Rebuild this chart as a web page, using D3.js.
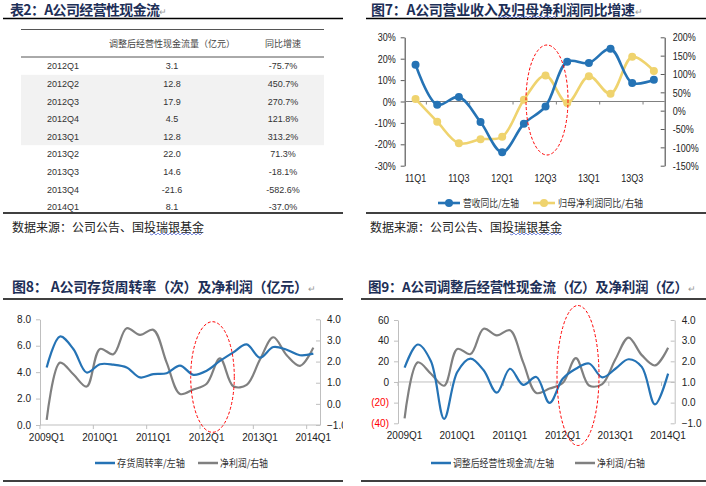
<!DOCTYPE html>
<html><head><meta charset="utf-8">
<script src="https://cdn.jsdelivr.net/npm/d3@7"></script>
<style>
body{margin:0;background:#fff}
svg{display:block}
text{font-family:"Liberation Sans",Arial,sans-serif}
.cjk{font-family:"Noto Sans CJK SC","Noto Sans",sans-serif}
</style>
</head><body><svg id="c" width="706" height="486"></svg>
<script>
// ---------- DATA ----------
const tableQuarters = ["2012Q1","2012Q2","2012Q3","2012Q4","2013Q1","2013Q2","2013Q3","2013Q4","2014Q1"];
const tableCash = ["3.1","12.8","17.9","4.5","12.8","22.0","14.6","-21.6","8.1"];
const tableYoy = ["-75.7%","450.7%","270.7%","121.8%","313.2%","71.3%","-18.1%","-582.6%","-37.0%"];
const tableHeaders = ["调整后经营性现金流量（亿元）","同比增速"];

const fig7Cats = ["11Q1","11Q2","11Q3","11Q4","12Q1","12Q2","12Q3","12Q4","13Q1","13Q2","13Q3","13Q4"];
const revenueYoy = [17.2,-1.5,2.1,-9.6,-23.7,-10.4,-2.3,18.6,18.0,24.6,8.7,10.2];
const profitYoy = [32,-30,-89,-78,-71,30,96,21,94,46,147,108];
const fig7LeftTicks = [-30,-20,-10,0,10,20,30];
const fig7RightTicks = [-150,-100,-50,0,50,100,150,200];

const quarters = ["2009Q1","2009Q2","2009Q3","2009Q4","2010Q1","2010Q2","2010Q3","2010Q4",
  "2011Q1","2011Q2","2011Q3","2011Q4","2012Q1","2012Q2","2012Q3","2012Q4",
  "2013Q1","2013Q2","2013Q3","2013Q4","2014Q1"];
const quarterLabels = ["2009Q1","2010Q1","2011Q1","2012Q1","2013Q1","2014Q1"];
const inventoryTurnover = [4.35,6.7,5.75,3.97,4.6,4.57,4.36,3.6,3.85,3.92,4.5,3.8,4.1,4.85,5.5,6.1,5.1,5.9,5.7,5.28,5.4];
const netProfit = [-0.76,1.95,1.4,0.82,2.6,2.35,3.58,3.26,3.5,1.95,0.47,0.68,0.95,2.15,0.83,0.9,2.1,3.15,2.3,1.8,2.66];
const adjCashFlow = [13.9,36.3,20.0,-35.7,9.7,22.7,11.3,-10.4,12.8,-2.8,4.8,-20.3,3.1,12.8,17.9,4.5,12.8,22.0,14.6,-21.6,8.1];
const fig8LeftTicks = [0,2,4,6,8];
const fig9LeftTicks = [-40,-20,0,20,40,60];
const profitTicks = [-1,0,1,2,3,4];

const titles = ["表2：A公司经营性现金流","图7：A公司营业收入及归母净利润同比增速",
  "图8：  A公司存货周转率（次）及净利润（亿元）","图9：A公司调整后经营性现金流（亿）及净利润（亿）"];
const sourceText = "数据来源：公司公告、国投瑞银基金";
const legend7 = ["营收同比/左轴","归母净利润同比/右轴"];
const legend8 = ["存货周转率/左轴","净利润/右轴"];
const legend9 = ["调整后经营性现金流/左轴","净利润/右轴"];

// ---------- STYLE ----------
const BLUE = "#2573b5", YELLOW = "#efd36e", GRAY = "#808080", NAVY = "#1d2f57";
const svg = d3.select("#c");
svg.append("rect").attr("width",706).attr("height",486).attr("fill","#fff");

function title(x, y, txt, size, len){
  const t = svg.append("text").attr("class","cjk").attr("x",x).attr("y",y)
    .attr("font-size",size).attr("font-weight","bold").attr("fill",NAVY);
  t.append("tspan").text(txt).attr("textLength",len);
  t.append("tspan").text("↵").attr("font-size",9).attr("font-weight","normal").attr("fill","#999");
}
function rule(x1,x2,y,w,c){
  svg.append("line").attr("x1",x1).attr("x2",x2).attr("y1",y).attr("y2",y)
    .attr("stroke",c||"#000").attr("stroke-width",w||1);
}
function wavy(x1,x2,y){
  let d = `M${x1},${y}`;
  for(let x=x1, k=0; x<x2; x+=2, k++) d += `L${x+2},${y + (k%2? -1:1)}`;
  svg.append("path").attr("d",d).attr("fill","none").attr("stroke","#5a6fd6").attr("stroke-width",0.8);
}
function source(x,y){
  svg.append("text").attr("class","cjk").attr("x",x).attr("y",y).attr("font-size",12)
    .attr("fill","#222").text(sourceText);
}

// ---------- TABLE ----------
title(10, 15, titles[0], 14, 150);
rule(3,343,18.5,1.3);
const rowY = d3.scaleBand().domain(tableQuarters).range([57.2, 57.2+17.6*9]);
svg.append("rect").attr("x",21).attr("width",303)
  .attr("y",rowY("2012Q2")).attr("height",rowY.bandwidth()*4).attr("fill","#f2f2f2");
rule(21,324,29.5,1,"#555");
rule(21,324,57,1,"#555");
const colX = [63,172,283];
svg.append("g").selectAll("text").data(tableHeaders).join("text").attr("class","cjk")
  .attr("x",(d,i)=>colX[i+1]).attr("y",47).attr("text-anchor","middle")
  .attr("font-size",9).attr("fill","#444").text(d=>d);
const tg = svg.append("g").attr("font-size",9).attr("fill","#333").attr("text-anchor","middle");
[tableQuarters, tableCash, tableYoy].forEach((col,ci)=>{
  tg.selectAll(null).data(col).join("text")
    .attr("x",colX[ci]).attr("y",(d,i)=>rowY(tableQuarters[i])+rowY.bandwidth()/2+3.3)
    .text(d=>d);
});
rule(3,343,213,1.3);
source(12,232);
wavy(150,202,234);

// ---------- FIG 7 ----------
title(371, 15, titles[1], 14, 264);
wavy(498,556,17);
rule(366,706,18.5,1.3);
{
  const x = d3.scaleBand().domain(fig7Cats).range([404.7,664.7]);
  const yL = d3.scaleLinear().domain([-30,30]).range([165.7,37.3]);
  const yR = d3.scaleLinear().domain([-150,200]).range([165.7,37.3]);
  const g = svg.append("g");
  const axL = g.append("g").attr("transform","translate(404.7,0)")
    .call(d3.axisLeft(yL).tickValues(fig7LeftTicks).tickSize(4).tickSizeOuter(0).tickPadding(5).tickFormat(d=>d+"%"));
  const axR = g.append("g").attr("transform","translate(664.7,0)")
    .call(d3.axisRight(yR).tickValues(fig7RightTicks).tickSizeInner(-4).tickSizeOuter(0).tickPadding(8).tickFormat(d=>d+"%"));
  [axL,axR].forEach(a=>{
    a.select(".domain").attr("stroke","#595959").attr("stroke-width",1.2);
    a.selectAll(".tick line").attr("stroke","#595959");
    a.selectAll("text").attr("font-size",11.5).attr("fill","#222");
  });
  g.append("line").attr("x1",404.7).attr("x2",664.7).attr("y1",yL(0)).attr("y2",yL(0))
    .attr("stroke","#808080").attr("stroke-width",1.2);
  g.selectAll(null).data(d3.range(1,12,2)).join("line")
    .attr("x1",k=>404.7+x.step()*k).attr("x2",k=>404.7+x.step()*k)
    .attr("y1",yL(0)).attr("y2",yL(0)+3).attr("stroke","#808080");
  const xl = g.append("g").attr("transform","translate(0,170)")
    .call(d3.axisBottom(x).tickValues(fig7Cats.filter((d,i)=>i%2===0)).tickSize(0).tickPadding(4));
  xl.select(".domain").remove();
  xl.selectAll("text").attr("font-size",11.5).attr("fill","#222");
  g.selectAll("text").each(function(){
    const w = this.getComputedTextLength();
    d3.select(this).attr("textLength",w*0.78).attr("lengthAdjust","spacingAndGlyphs");
  });
  const curve = d3.curveCatmullRom.alpha(0.5);
  const lineP = d3.line().x((d,i)=>x(fig7Cats[i])+x.bandwidth()/2).y(d=>yR(d)).curve(curve);
  const lineR = d3.line().x((d,i)=>x(fig7Cats[i])+x.bandwidth()/2).y(d=>yL(d)).curve(curve);
  g.append("path").attr("d",lineP(profitYoy)).attr("fill","none").attr("stroke",YELLOW).attr("stroke-width",2.6);
  g.selectAll(null).data(profitYoy).join("circle").attr("cx",(d,i)=>x(fig7Cats[i])+x.bandwidth()/2)
    .attr("cy",d=>yR(d)).attr("r",4).attr("fill",YELLOW);
  g.append("path").attr("d",lineR(revenueYoy)).attr("fill","none").attr("stroke",BLUE).attr("stroke-width",2.6);
  g.selectAll(null).data(revenueYoy).join("circle").attr("cx",(d,i)=>x(fig7Cats[i])+x.bandwidth()/2)
    .attr("cy",d=>yL(d)).attr("r",4).attr("fill",BLUE);
  g.append("ellipse").attr("cx",547).attr("cy",100).attr("rx",21).attr("ry",55)
    .attr("fill","none").attr("stroke","#ff0000").attr("stroke-dasharray","3,2").attr("stroke-width",1);
  const lg = [[438,legend7[0],BLUE,56],[533,legend7[1],YELLOW,85]];
  lg.forEach(([lx,txt,col,w])=>{
    g.append("line").attr("x1",lx).attr("x2",lx+22).attr("y1",203).attr("y2",203).attr("stroke",col).attr("stroke-width",2.6);
    g.append("circle").attr("cx",lx+11).attr("cy",203).attr("r",4).attr("fill",col);
    g.append("text").attr("class","cjk").attr("x",lx+25).attr("y",206.5).attr("font-size",10)
      .attr("fill","#333").attr("textLength",w).attr("lengthAdjust","spacingAndGlyphs").text(txt);
  });
}
rule(366,706,213,1.3);
source(370,232);
wavy(510,561,234);

// ---------- FIG 8 / FIG 9 ----------
function dual(opt){
  title(opt.tx, 292, opt.title, opt.tsize, opt.tlen);
  rule(opt.r1, opt.r2, 299, 1.3);
  const clip = "clip"+opt.id;
  svg.append("clipPath").attr("id",clip).append("rect").attr("x",opt.r1).attr("y",300).attr("width",opt.r2-opt.r1).attr("height",180);
  const g = svg.append("g").attr("clip-path",`url(#${clip})`);
  const x = d3.scaleBand().domain(quarters).range([opt.x0,opt.x1]);
  const yL = d3.scaleLinear().domain(opt.lDom).range([opt.yb,opt.yt]);
  const yR = d3.scaleLinear().domain([-1,4]).range([opt.yb,opt.yt]);
  const axL = g.append("g").attr("transform",`translate(${opt.x0},0)`)
    .call(d3.axisLeft(yL).tickValues(opt.lTicks).tickSize(4).tickSizeOuter(0).tickPadding(5).tickFormat(opt.lFmt));
  const axR = g.append("g").attr("transform",`translate(${opt.x1},0)`)
    .call(d3.axisRight(yR).tickValues(profitTicks).tickSizeInner(-4).tickSizeOuter(0).tickPadding(7).tickFormat(d3.format(".1f")));
  [axL,axR].forEach(a=>{
    a.select(".domain").attr("stroke","#bfbfbf");
    a.selectAll(".tick line").attr("stroke","#bfbfbf");
    a.selectAll("text").attr("font-size",10).attr("fill","#222");
  });
  axL.selectAll("text").attr("fill",d=>d<0?"#ff0000":"#222");
  const y0 = yL(0);
  g.append("line").attr("x1",opt.x0).attr("x2",opt.x1).attr("y1",y0).attr("y2",y0).attr("stroke","#bfbfbf");
  g.selectAll(null).data(d3.range(0,22,4)).join("line")
    .attr("x1",k=>opt.x0+x.step()*k).attr("x2",k=>opt.x0+x.step()*k)
    .attr("y1",y0).attr("y2",y0+4).attr("stroke","#bfbfbf");
  const xl = g.append("g").attr("transform",`translate(0,${opt.yb})`)
    .call(d3.axisBottom(x).tickValues(quarterLabels).tickSize(0).tickPadding(9));
  xl.select(".domain").remove();
  xl.selectAll("text").attr("font-size",10).attr("fill","#222");
  const curve = d3.curveCatmullRom.alpha(0.5);
  const cx = (d,i)=>x(quarters[i])+x.bandwidth()/2;
  g.append("path").attr("d",d3.line().x(cx).y(d=>yR(d)).curve(curve)(netProfit))
    .attr("fill","none").attr("stroke",GRAY).attr("stroke-width",2.2);
  g.append("path").attr("d",d3.line().x(cx).y(d=>yL(d)).curve(curve)(opt.lData))
    .attr("fill","none").attr("stroke",BLUE).attr("stroke-width",2.2);
  const e = opt.ell;
  svg.append("ellipse").attr("cx",e[0]).attr("cy",e[1]).attr("rx",e[2]).attr("ry",e[3])
    .attr("fill","none").attr("stroke","#ff0000").attr("stroke-dasharray","3,2").attr("stroke-width",1);
  opt.legend.forEach(([lx,txt,col,w])=>{
    svg.append("line").attr("x1",lx).attr("x2",lx+20).attr("y1",463).attr("y2",463).attr("stroke",col).attr("stroke-width",2.5);
    svg.append("text").attr("class","cjk").attr("x",lx+22).attr("y",466.5).attr("font-size",10)
      .attr("fill","#333").attr("textLength",w).attr("lengthAdjust","spacingAndGlyphs").text(txt);
  });
  rule(opt.r1, opt.r2, 481, 1.3);
}
dual({id:8, title:titles[2], tx:12, tsize:14, tlen:296, r1:3, r2:343, x0:40, x1:320, yt:319.3, yb:425,
  lDom:[0,8], lTicks:fig8LeftTicks, lFmt:d3.format(".1f"), lData:inventoryTurnover,
  ell:[212.5,377,21.8,55.3], legend:[[95,legend8[0],BLUE,68],[198,legend8[1],GRAY,48]]});
dual({id:9, title:titles[3], tx:368, tsize:13.5, tlen:320, r1:361, r2:706, x0:398, x1:674.7, yt:320, yb:423.3,
  lDom:[-40,60], lTicks:fig9LeftTicks, lFmt:d=>d<0?`(${-d})`:d, lData:adjCashFlow,
  ell:[578,375.5,21,70], legend:[[431,legend9[0],BLUE,101],[575,legend9[1],GRAY,48]]});
</script>
</body></html>
